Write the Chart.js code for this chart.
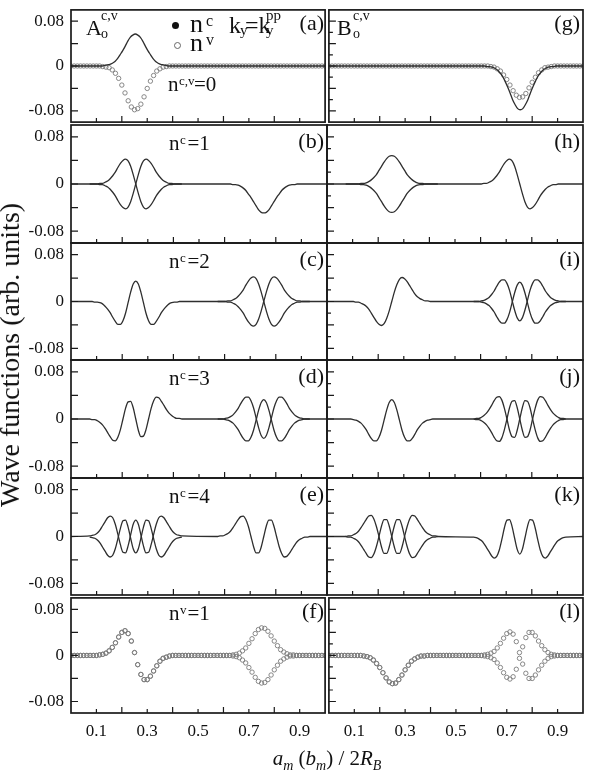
<!DOCTYPE html>
<html><head><meta charset="utf-8">
<script src="https://cdn.jsdelivr.net/npm/chart.js@4.4.1/dist/chart.umd.min.js"></script>
<style>
html,body{margin:0;padding:0;background:#fff;}
#fig{position:relative;width:590px;height:772px;overflow:hidden;background:#fff;}
canvas{position:absolute;}
.t{position:absolute;font-family:"Liberation Serif","Times New Roman",serif;line-height:1;white-space:nowrap;color:#111;z-index:2;}
.dot{position:absolute;width:7px;height:7px;border-radius:50%;box-sizing:border-box;z-index:2;}
</style></head><body>
<div id="fig">
<!-- y title -->
<div class="t" style="left:10px;top:355px;font-size:28px;transform:translate(-50%,-50%) rotate(-90deg);">Wave functions (arb. units)</div>
<!-- x title -->
<div class="t" style="left:327px;top:748px;font-size:21px;transform:translateX(-50%);"><i>a</i><i style="font-size:14px;position:relative;top:5px;">m</i> (<i>b</i><i style="font-size:14px;position:relative;top:5px;">m</i>) / 2<i>R</i><i style="font-size:14px;position:relative;top:5px;">B</i></div>

<!-- panel letters -->
<div class="t" style="right:266px;top:11.6px;font-size:22px;">(a)</div>
<div class="t" style="right:266px;top:129.6px;font-size:22px;">(b)</div>
<div class="t" style="right:266px;top:247.6px;font-size:22px;">(c)</div>
<div class="t" style="right:266px;top:364.6px;font-size:22px;">(d)</div>
<div class="t" style="right:266px;top:482.6px;font-size:22px;">(e)</div>
<div class="t" style="right:266px;top:599.6px;font-size:22px;">(f)</div>
<div class="t" style="right:10px;top:11.6px;font-size:22px;">(g)</div>
<div class="t" style="right:10px;top:129.6px;font-size:22px;">(h)</div>
<div class="t" style="right:10px;top:247.6px;font-size:22px;">(i)</div>
<div class="t" style="right:10px;top:364.6px;font-size:22px;">(j)</div>
<div class="t" style="right:10px;top:482.6px;font-size:22px;">(k)</div>
<div class="t" style="right:10px;top:599.6px;font-size:22px;">(l)</div>

<!-- A and B labels -->
<div class="t" style="left:86px;top:16.6px;font-size:22px;">A</div>
<div class="t" style="left:101px;top:8.8px;font-size:14px;">c,v</div>
<div class="t" style="left:101px;top:26.8px;font-size:14px;">o</div>
<div class="t" style="left:337px;top:16.6px;font-size:22px;">B</div>
<div class="t" style="left:353px;top:8.8px;font-size:14px;">c,v</div>
<div class="t" style="left:353px;top:26.8px;font-size:14px;">o</div>

<!-- legend -->
<div class="dot" style="left:171.5px;top:21.5px;background:#111;"></div>
<div class="dot" style="left:174px;top:41.5px;border:1px solid #666;"></div>
<div class="t" style="left:190px;top:11.2px;font-size:26px;">n</div>
<div class="t" style="left:206px;top:13.1px;font-size:16px;">c</div>
<div class="t" style="left:190px;top:30.2px;font-size:26px;">n</div>
<div class="t" style="left:206px;top:31.6px;font-size:16px;">v</div>
<div class="t" style="left:229px;top:12.9px;font-size:24px;">k</div>
<div class="t" style="left:240px;top:23.4px;font-size:15px;">y</div>
<div class="t" style="left:245px;top:12.9px;font-size:24px;">=k</div>
<div class="t" style="left:266px;top:23.4px;font-size:15px;">y</div>
<div class="t" style="left:266px;top:8.4px;font-size:15px;">pp</div>

<!-- quantum numbers -->
<div class="t" style="left:168px;top:74.1px;font-size:21px;">n</div>
<div class="t" style="left:179px;top:74.1px;font-size:13px;">c,v</div>
<div class="t" style="left:194px;top:74.1px;font-size:21px;">=0</div>

<div class="t" style="left:169px;top:132.9px;font-size:21px;">n</div>
<div class="t" style="left:180px;top:133.1px;font-size:13px;">c</div>
<div class="t" style="left:187.5px;top:132.9px;font-size:21px;">=1</div>

<div class="t" style="left:169px;top:250.9px;font-size:21px;">n</div>
<div class="t" style="left:180px;top:251.1px;font-size:13px;">c</div>
<div class="t" style="left:187.5px;top:250.9px;font-size:21px;">=2</div>

<div class="t" style="left:169px;top:367.9px;font-size:21px;">n</div>
<div class="t" style="left:180px;top:368.1px;font-size:13px;">c</div>
<div class="t" style="left:187.5px;top:367.9px;font-size:21px;">=3</div>

<div class="t" style="left:169px;top:485.9px;font-size:21px;">n</div>
<div class="t" style="left:180px;top:486.1px;font-size:13px;">c</div>
<div class="t" style="left:187.5px;top:485.9px;font-size:21px;">=4</div>

<div class="t" style="left:169px;top:602.9px;font-size:21px;">n</div>
<div class="t" style="left:180px;top:603.1px;font-size:13px;">v</div>
<div class="t" style="left:187.5px;top:602.9px;font-size:21px;">=1</div>
</div>

<script>
// ---------------- axis / tick data ----------------
const xLabelVals = [0.1, 0.3, 0.5, 0.7, 0.9];
const xLabelText = ['0.1', '0.3', '0.5', '0.7', '0.9'];
const xTickMarks = [0.1, 0.2, 0.3, 0.4, 0.5, 0.6, 0.7, 0.8, 0.9];
const yLabelVals = [-0.08, -0.04, 0, 0.04, 0.08];
const yLabelText = ['-0.08', '', '0', '', '0.08'];
const yTicksLeft = [-0.08, -0.04, 0, 0.04, 0.08];
const yTicksRight = [-0.08, -0.06, -0.04, -0.02, 0, 0.02, 0.04, 0.06, 0.08];

// ---------------- sample positions ----------------
const xDots = [0,0.0125,0.025,0.0375,0.05,0.0625,0.075,0.0875,0.1,0.1125,
0.125,0.1375,0.15,0.1625,0.175,0.1875,0.2,0.2125,0.225,0.2375,
0.25,0.2625,0.275,0.2875,0.3,0.3125,0.325,0.3375,0.35,0.3625,
0.375,0.3875,0.4,0.4125,0.425,0.4375,0.45,0.4625,0.475,0.4875,
0.5,0.5125,0.525,0.5375,0.55,0.5625,0.575,0.5875,0.6,0.6125,
0.625,0.6375,0.65,0.6625,0.675,0.6875,0.7,0.7125,0.725,0.7375,
0.75,0.7625,0.775,0.7875,0.8,0.8125,0.825,0.8375,0.85,0.8625,
0.875,0.8875,0.9,0.9125,0.925,0.9375,0.95,0.9625,0.975,0.9875,1];
const xLeft = [0.073,0.083,0.093,0.103,0.113,0.123,0.133,0.143,0.153,0.163,0.173,0.183,0.193,0.203,0.213,0.223,0.233,0.243,0.253,
0.263,0.273,0.283,0.293,0.303,0.313,0.323,0.333,0.343,0.353,0.363,0.373,0.383,0.393,0.403,0.413,0.423,0.433];
const xRight = [0.573,0.583,0.593,0.603,0.613,0.623,0.633,0.643,0.653,0.663,0.673,0.683,0.693,0.703,0.713,0.723,0.733,0.743,0.753,
0.763,0.773,0.783,0.793,0.803,0.813,0.823,0.833,0.843,0.853,0.863,0.873,0.883,0.893,0.903,0.913,0.923,0.933];

// ---------------- panel (a) ----------------
const a_nc = [0,0,0,0,0,0,.001,.002,.003,.005,.008,.013,.020,.027,.035,.044,.051,.055,.057,.055,.051,.044,.035,.027,.020,.013,.008,.005,.003,.002,.001,0,0,0,0,0,0];
const a_nv = [0,0,0,0,0,0,0,0,0,0,
-0.001,-0.002,-0.003,-0.007,-0.013,-0.022,-0.034,-0.048,-0.062,-0.073,
-0.078,-0.076,-0.068,-0.055,-0.040,-0.027,-0.017,-0.009,-0.005,-0.002,
-0.001,0,0,0,0,0,0,0,0,0,
0,0,0,0,0,0,0,0,0,0, 0,0,0,0,0,0,0,0,0,0, 0,0,0,0,0,0,0,0,0,0, 0,0,0,0,0,0,0,0,0,0, 0];
// ---------------- panel (b) ----------------
const b_left1 = [0,0,0,0,-.001,-.001,-.003,-.005,-.009,-.014,-.020,-.028,-.035,-.040,-.042,-.039,-.030,-.016,0,.016,.030,.039,.042,.040,.035,.028,.020,.014,.009,.005,.003,.001,.001,0,0,0,0];
const b_left2 = [0,0,0,0,.001,.001,.003,.005,.009,.014,.020,.028,.035,.040,.042,.039,.030,.016,0,-.016,-.030,-.039,-.042,-.040,-.035,-.028,-.020,-.014,-.009,-.005,-.003,-.001,-.001,0,0,0,0];
const b_right = [0,0,0,0,0,0,-.001,-.001,-.002,-.004,-.007,-.011,-.017,-.023,-.030,-.037,-.044,-.048,-.049,-.048,-.044,-.037,-.030,-.023,-.017,-.011,-.007,-.004,-.002,-.001,-.001,0,0,0,0,0,0];
// ---------------- panel (c) ----------------
const c_left = [0,0,-.001,-.001,-.002,-.004,-.008,-.013,-.019,-.027,-.034,-.039,-.039,-.033,-.020,-.002,.016,.030,.035,.030,.016,-.002,-.020,-.033,-.039,-.039,-.034,-.027,-.019,-.013,-.008,-.004,-.002,-.001,-.001,0,0];
const c_right1 = [0,0,0,0,-.001,-.001,-.003,-.005,-.009,-.014,-.020,-.028,-.035,-.040,-.042,-.039,-.030,-.016,0,.016,.030,.039,.042,.040,.035,.028,.020,.014,.009,.005,.003,.001,.001,0,0,0,0];
const c_right2 = [0,0,0,0,.001,.001,.003,.005,.009,.014,.020,.028,.035,.040,.042,.039,.030,.016,0,-.016,-.030,-.039,-.042,-.040,-.035,-.028,-.020,-.014,-.009,-.005,-.003,-.001,-.001,0,0,0,0];
// ---------------- panel (d) ----------------
const d_left = [0,-.001,-.001,-.003,-.006,-.010,-.016,-.023,-.030,-.036,-.037,-.031,-.018,0,.018,.029,.030,.019,0,-.019,-.030,-.029,-.018,0,.018,.031,.037,.036,.030,.023,.016,.010,.006,.003,.001,.001,0];
const d_right1 = [0,0,0,.001,.002,.004,.007,.012,.018,.026,.033,.037,.037,.031,.019,.002,-.015,-.028,-.033,-.028,-.015,.002,.019,.031,.037,.037,.033,.026,.018,.012,.007,.004,.002,.001,0,0,0];
const d_right2 = [0,0,0,-.001,-.002,-.004,-.007,-.012,-.018,-.026,-.033,-.037,-.037,-.031,-.019,-.002,.015,.028,.033,.028,.015,-.002,-.019,-.031,-.037,-.037,-.033,-.026,-.018,-.012,-.007,-.004,-.002,-.001,0,0,0];
// ---------------- panel (e) ----------------
const e_left1 = [.001,.002,.003,.006,.011,.018,.025,.032,.035,.032,.021,.004,-.014,-.027,-.028,-.016,.003,.021,.028,.021,.003,-.016,-.028,-.027,-.014,.004,.021,.032,.035,.032,.025,.018,.011,.006,.003,.002,.001];
const e_left2 = [-.001,-.002,-.003,-.006,-.011,-.018,-.025,-.032,-.035,-.032,-.021,-.004,.014,.027,.028,.016,-.003,-.021,-.028,-.021,-.003,.016,.028,.027,.014,-.004,-.021,-.032,-.035,-.032,-.025,-.018,-.011,-.006,-.003,-.002,-.001];
const e_right = [0,.001,.001,.003,.005,.009,.015,.022,.029,.034,.035,.029,.017,0,-.017,-.028,-.028,-.018,0,.018,.028,.028,.017,0,-.017,-.029,-.035,-.034,-.029,-.022,-.015,-.009,-.005,-.003,-.001,-.001,0];
// ---------------- panel (f) ----------------
const f_nv1 = [0,0,0,0,0,0,0,0,0,0.001,
0.002,0.004,0.008,0.014,0.022,0.032,0.040,0.043,0.038,0.025,
0.005,-0.016,-0.033,-0.042,-0.042,-0.036,-0.027,-0.018,-0.010,-0.005,
-0.003,-0.001,0,0,0,0,0,0,0,0,
0,0,0,0,0,0,0,0,0,0,
0,0.001,0.002,0.004,0.008,0.013,0.021,0.029,0.038,0.045,
0.048,0.047,0.042,0.034,0.025,0.017,0.010,0.006,0.003,0.001,
0.001,0,0,0,0,0,0,0,0,0, 0];
const f_nv2 = [0,0,0,0,0,0,0,0,0,0.001,
0.002,0.004,0.008,0.014,0.022,0.032,0.040,0.043,0.038,0.025,
0.005,-0.016,-0.033,-0.042,-0.042,-0.036,-0.027,-0.018,-0.010,-0.005,
-0.003,-0.001,0,0,0,0,0,0,0,0,
0,0,0,0,0,0,0,0,0,0,
0,-0.001,-0.002,-0.004,-0.008,-0.013,-0.021,-0.029,-0.038,-0.045,
-0.048,-0.047,-0.042,-0.034,-0.025,-0.017,-0.010,-0.006,-0.003,-0.001,
-0.001,0,0,0,0,0,0,0,0,0, 0];
// ---------------- panel (g) ----------------
const g_nc = [0,0,0,0,0,-.001,-.001,-.002,-.004,-.007,-.012,-.018,-.027,-.037,-.048,-.060,-.069,-.076,-.078,-.076,-.069,-.060,-.048,-.037,-.027,-.018,-.012,-.007,-.004,-.002,-.001,-.001,0,0,0,0,0];
const g_nv = [0,0,0,0,0,0,0,0,0,0, 0,0,0,0,0,0,0,0,0,0, 0,0,0,0,0,0,0,0,0,0, 0,0,0,0,0,0,0,0,0,0, 0,0,0,0,0,0,0,0,0,0,
0,-0.001,-0.002,-0.005,-0.009,-0.016,-0.024,-0.034,-0.044,-0.052,
-0.056,-0.055,-0.049,-0.039,-0.029,-0.020,-0.012,-0.007,-0.003,-0.002,
-0.001,0,0,0,0,0,0,0,0,0, 0];
// ---------------- panel (h) ----------------
const h_left1 = [0,0,0,0,0,0,.001,.001,.002,.004,.007,.011,.016,.023,.030,.037,.043,.047,.048,.047,.043,.037,.030,.023,.016,.011,.007,.004,.002,.001,.001,0,0,0,0,0,0];
const h_left2 = [0,0,0,0,0,0,-.001,-.001,-.002,-.004,-.007,-.011,-.016,-.023,-.030,-.037,-.043,-.047,-.048,-.047,-.043,-.037,-.030,-.023,-.016,-.011,-.007,-.004,-.002,-.001,-.001,0,0,0,0,0,0];
const h_right = [0,0,0,0,.001,.001,.003,.005,.009,.014,.020,.028,.035,.040,.042,.039,.030,.016,0,-.016,-.030,-.039,-.042,-.040,-.035,-.028,-.020,-.014,-.009,-.005,-.003,-.001,-.001,0,0,0,0];
// ---------------- panel (i) ----------------
const i_left = [0,0,0,0,-.001,-.001,-.003,-.005,-.008,-.013,-.020,-.027,-.034,-.039,-.041,-.038,-.029,-.016,0,.016,.029,.038,.041,.039,.034,.027,.020,.013,.008,.005,.003,.001,.001,0,0,0,0];
const i_right1 = [0,0,0,.001,.002,.004,.007,.012,.018,.026,.033,.037,.037,.031,.019,.002,-.015,-.028,-.033,-.028,-.015,.002,.019,.031,.037,.037,.033,.026,.018,.012,.007,.004,.002,.001,0,0,0];
const i_right2 = [0,0,0,-.001,-.002,-.004,-.007,-.012,-.018,-.026,-.033,-.037,-.037,-.031,-.019,-.002,.015,.028,.033,.028,.015,-.002,-.019,-.031,-.037,-.037,-.033,-.026,-.018,-.012,-.007,-.004,-.002,-.001,0,0,0];
// ---------------- panel (j) ----------------
const j_left = [0,0,0,-.001,-.002,-.004,-.007,-.012,-.018,-.026,-.033,-.037,-.037,-.031,-.019,-.002,.015,.028,.033,.028,.015,-.002,-.019,-.031,-.037,-.037,-.033,-.026,-.018,-.012,-.007,-.004,-.002,-.001,0,0,0];
const j_right1 = [0,-.001,-.001,-.003,-.006,-.010,-.016,-.023,-.031,-.037,-.038,-.032,-.018,0,.019,.030,.031,.019,0,-.019,-.031,-.030,-.019,0,.018,.032,.038,.037,.031,.023,.016,.010,.006,.003,.001,.001,0];
const j_right2 = [0,.001,.001,.003,.006,.010,.016,.023,.031,.037,.038,.032,.018,0,-.019,-.030,-.031,-.019,0,.019,.031,.030,.019,0,-.018,-.032,-.038,-.037,-.031,-.023,-.016,-.010,-.006,-.003,-.001,-.001,0];
// ---------------- panel (k) ----------------
const k_left1 = [0,-.001,-.001,-.003,-.005,-.009,-.015,-.022,-.029,-.035,-.036,-.030,-.017,0,.018,.029,.029,.018,0,-.018,-.029,-.029,-.018,0,.017,.030,.036,.035,.029,.022,.015,.009,.005,.003,.001,.001,0];
const k_left2 = [0,.001,.001,.003,.005,.009,.015,.022,.029,.035,.036,.030,.017,0,-.018,-.029,-.029,-.018,0,.018,.029,.029,.018,0,-.017,-.030,-.036,-.035,-.029,-.022,-.015,-.009,-.005,-.003,-.001,-.001,0];
const k_right = [-.001,-.002,-.004,-.007,-.012,-.019,-.026,-.033,-.037,-.034,-.023,-.005,.015,.028,.029,.017,-.003,-.022,-.030,-.022,-.003,.017,.029,.028,.015,-.005,-.023,-.034,-.037,-.033,-.026,-.019,-.012,-.007,-.004,-.002,-.001];
// ---------------- panel (l) ----------------
const l_nv1 = [0,0,0,0,0,0,0,0,0,0,
0,-0.001,-0.002,-0.004,-0.008,-0.014,-0.021,-0.030,-0.039,-0.046,
-0.049,-0.048,-0.042,-0.034,-0.025,-0.017,-0.010,-0.006,-0.003,-0.001,
-0.001,0,0,0,0,0,0,0,0,0,
0,0,0,0,0,0,0,0,0,-0.001,
-0.002,-0.004,-0.007,-0.013,-0.021,-0.030,-0.038,-0.041,-0.037,-0.024,
-0.005,0.015,0.031,0.040,0.040,0.034,0.025,0.017,0.010,0.005,
0.002,0.001,0,0,0,0,0,0,0,0, 0];
const l_nv2 = [0,0,0,0,0,0,0,0,0,0,
0,-0.001,-0.002,-0.004,-0.008,-0.014,-0.021,-0.030,-0.039,-0.046,
-0.049,-0.048,-0.042,-0.034,-0.025,-0.017,-0.010,-0.006,-0.003,-0.001,
-0.001,0,0,0,0,0,0,0,0,0,
0,0,0,0,0,0,0,0,0,0.001,
0.002,0.004,0.007,0.013,0.021,0.030,0.038,0.041,0.037,0.024,
0.005,-0.015,-0.031,-0.040,-0.040,-0.034,-0.025,-0.017,-0.010,-0.005,
-0.002,-0.001,0,0,0,0,0,0,0,0, 0];

// ---------------- helpers ----------------
const LINE = '#2e2e2e', DOT = '#7a7a7a', FONT = 'Liberation Serif';
Chart.defaults.font.family = FONT;
function seg(xs, ys) { return xs.map((x, i) => ({x: x, y: ys[i]})); }
function full(...segs) { return [{x: 0, y: 0}].concat(...segs, [{x: 1, y: 0}]); }
function line(data) {
  return {data: data, showLine: true, borderColor: LINE, borderWidth: 1.3, pointRadius: 0,
          cubicInterpolationMode: 'monotone', fill: false};
}
function dots(ys) {
  return {data: seg(xDots, ys), showLine: false, pointRadius: 2.2, pointBorderWidth: 0.9,
          pointBorderColor: DOT, pointBackgroundColor: 'rgba(255,255,255,0)', pointStyle: 'circle'};
}

const frame = {
  id: 'frame',
  afterDatasetsDraw(chart, args, o) {
    const {ctx, chartArea: a} = chart;
    const xs = chart.scales.x, ys = chart.scales.y;
    ctx.save();
    ctx.strokeStyle = '#1a1a1a';
    ctx.lineWidth = 1.2;
    ctx.beginPath();
    xTickMarks.forEach((v, i) => {
      const px = xs.getPixelForValue(v);
      const len = (i % 2 === 1) ? 6 : 4;
      ctx.moveTo(px, a.bottom); ctx.lineTo(px, a.bottom - len);
    });
    o.yTicks.forEach(v => {
      const py = ys.getPixelForValue(v);
      const major = Math.abs(Math.round(v * 100) % 4) === 0;
      const len = major ? 7 : 4;
      ctx.moveTo(a.left, py); ctx.lineTo(a.left + len, py);
    });
    ctx.stroke();
    ctx.lineWidth = 1.7;
    ctx.strokeRect(a.left, a.top, a.right - a.left, a.bottom - a.top);
    ctx.restore();
  }
};

const rowTop = [7, 125, 243, 360, 478, 595];
const rowBottom = [125, 243, 360, 478, 595, 713];

const panels = [
  {col: 0, row: 0, ds: [line(full(seg(xLeft, a_nc))), dots(a_nv)]},
  {col: 0, row: 1, ds: [line(full(seg(xLeft, b_left1), seg(xRight, b_right))), line(seg(xLeft, b_left2))]},
  {col: 0, row: 2, ds: [line(full(seg(xLeft, c_left), seg(xRight, c_right1))), line(seg(xRight, c_right2))]},
  {col: 0, row: 3, ds: [line(full(seg(xLeft, d_left), seg(xRight, d_right1))), line(seg(xRight, d_right2))]},
  {col: 0, row: 4, ds: [line(full(seg(xLeft, e_left1), seg(xRight, e_right))), line(seg(xLeft, e_left2))]},
  {col: 0, row: 5, ds: [dots(f_nv1), dots(f_nv2)]},
  {col: 1, row: 0, ds: [line(full(seg(xRight, g_nc))), dots(g_nv)]},
  {col: 1, row: 1, ds: [line(full(seg(xLeft, h_left1), seg(xRight, h_right))), line(seg(xLeft, h_left2))]},
  {col: 1, row: 2, ds: [line(full(seg(xLeft, i_left), seg(xRight, i_right1))), line(seg(xRight, i_right2))]},
  {col: 1, row: 3, ds: [line(full(seg(xLeft, j_left), seg(xRight, j_right1))), line(seg(xRight, j_right2))]},
  {col: 1, row: 4, ds: [line(full(seg(xLeft, k_left1), seg(xRight, k_right))), line(seg(xLeft, k_left2))]},
  {col: 1, row: 5, ds: [dots(l_nv1), dots(l_nv2)]}
];

const fig = document.getElementById('fig');
panels.forEach(p => {
  const bottomRow = p.row === 5;
  const leftCol = p.col === 0;
  const left = leftCol ? 0 : 324;
  const w = leftCol ? 330 : 266;
  const top = rowTop[p.row] - 2;
  const h = rowBottom[p.row] - rowTop[p.row] + 2 + (bottomRow ? 40 : 2);
  const cv = document.createElement('canvas');
  cv.width = w; cv.height = h;
  cv.style.left = left + 'px'; cv.style.top = top + 'px';
  cv.style.width = w + 'px'; cv.style.height = h + 'px';
  fig.insertBefore(cv, fig.firstChild);
  new Chart(cv, {
    type: 'scatter',
    data: {datasets: p.ds},
    options: {
      responsive: false, maintainAspectRatio: false, animation: false, devicePixelRatio: 1,
      layout: {padding: {left: leftCol ? 0 : 3, right: leftCol ? 3 : 7, top: 2, bottom: bottomRow ? 0 : 2}},
      plugins: {legend: {display: false}, tooltip: {enabled: false},
                frame: {yTicks: leftCol ? yTicksLeft : yTicksRight}},
      scales: {
        x: {
          type: 'linear', min: 0, max: 1, display: bottomRow,
          grid: {display: false, drawTicks: false}, border: {display: false},
          afterBuildTicks: s => { s.ticks = xLabelVals.map(v => ({value: v})); },
          afterFit: s => { s.height = bottomRow ? 40 : 0; s.paddingLeft = 0; s.paddingRight = 0; },
          ticks: {padding: 8, color: '#111', font: {family: FONT, size: 17}, maxRotation: 0, autoSkip: false,
                  callback: (v, i) => xLabelText[i]}
        },
        y: {
          type: 'linear', min: -0.1, max: 0.1, display: leftCol,
          grid: {display: false, drawTicks: false}, border: {display: false},
          afterBuildTicks: s => { s.ticks = yLabelVals.map(v => ({value: v})); },
          afterFit: s => { s.width = leftCol ? 71 : 0; s.paddingTop = 0; s.paddingBottom = 0; },
          ticks: {padding: 7, color: '#111', font: {family: FONT, size: 17}, autoSkip: false,
                  callback: (v, i) => yLabelText[i]}
        }
      }
    },
    plugins: [frame]
  });
});
</script>
</body></html>
